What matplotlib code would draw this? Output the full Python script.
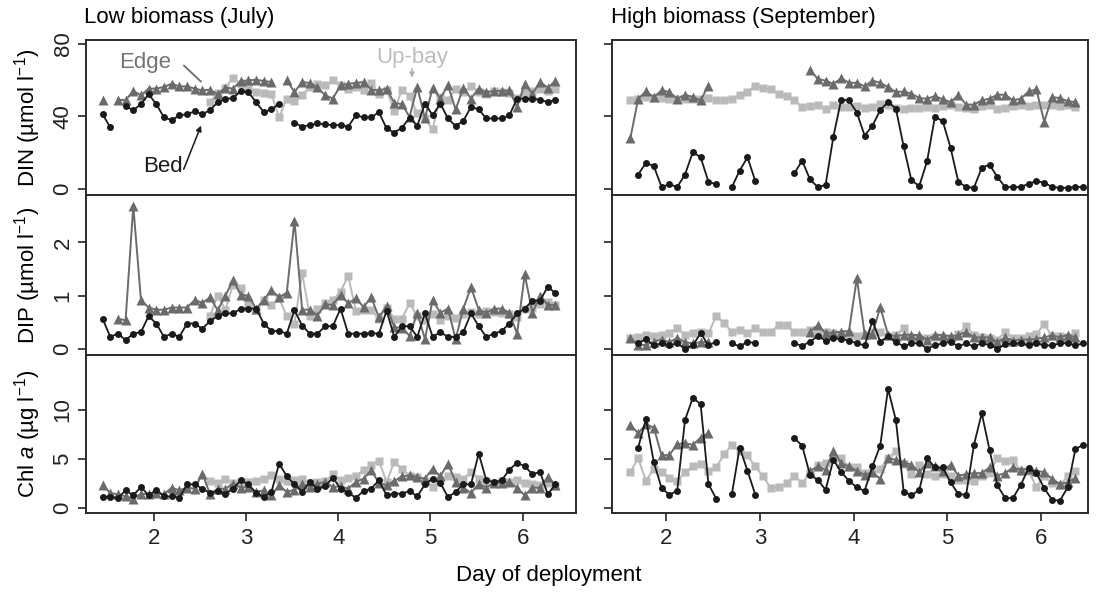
import matplotlib
matplotlib.use('Agg')
import matplotlib.pyplot as plt
import numpy as np

nan = np.nan

plt.rcParams['font.family'] = ['Liberation Sans', 'DejaVu Sans']
plt.rcParams['mathtext.fontset'] = 'custom'
plt.rcParams['mathtext.rm'] = 'Liberation Sans'
plt.rcParams['mathtext.it'] = 'Liberation Sans:italic'

# sampling every 2 h
day_jul = 1.44 + np.arange(60) / 12
day_sep = 1.616 + np.arange(59) / 12

# ---- July (low biomass) ----
bed_din_jul = [41.1, 33.8, nan, 45.5, 43.3, 46.6, 52.1, 46.6, 39.3, 37.8,
               40.4, 41.1, 42.6, 41.1, 43.3, 47.7, 49.5, 49.9, 53.9, 53.2,
               47.7, 42.2, 43.7, 46.9, nan, 36.3, 34.2, 35.1, 36.0, 35.4,
               35.1, 35.1, 34.2, 40.5, 39.3, 39.3, 42.2, 33.2, 30.9, 33.6,
               39.1, 34.7, 46.9, 40.5, 46.9, 38.7, 34.5, 37.4, 45.1, 43.7,
               38.7, 38.7, 38.7, 40.4, 49.7, 49.7, 49.3, 49.1, 47.7, 49.1]
edge_din_jul = [49.1, nan, 49.1, 48.8, 53.9, 51.5, 55.2, 55.2, 56.1, 57.9,
                56.4, 56.4, 55.2, 54.2, 54.6, 52.1, 55.7, 55.2, 59.4, 59.7,
                60.1, 59.4, 58.8, nan, 59.7, 53.3, 58.8, 58.3, 55.9, 51.5,
                49.7, 57.0, 57.9, 58.3, 58.8, 54.6, 54.2, 55.2, 47.3, 46.6,
                39.6, 56.1, 38.7, 55.7, 49.7, 57.0, 43.7, 55.7, 49.7, 55.2,
                53.3, 53.9, 53.9, 54.2, 45.1, 57.9, 52.4, 58.8, 55.7, 59.4]
upbay_din_jul = [nan] * 14 + [
    47.9, 52.8, 55.7, 61.2, 57.9, 55.5, 53.3, 52.8, 52.1, 39.3,
    49.7, 48.4, 51.5, 56.1, 57.5, 57.0, 59.7, 57.0, 55.2, 56.1,
    54.6, 58.3, 52.4, 54.6, 42.9, 54.6, 51.0, 41.5, 38.7, 32.7,
    50.6, 49.1, 55.2, 53.3, 56.4, 53.5, 52.0, 54.0, 53.5, 52.5,
    50.0, 53.0, 54.0, 55.0, 54.0, 55.0]

bed_dip_jul = [0.57, 0.23, 0.29, 0.17, 0.29, 0.32, 0.62, 0.48, 0.23, 0.29,
               0.23, 0.48, 0.48, 0.38, 0.53, 0.62, 0.67, 0.67, 0.76, 0.76,
               0.76, 0.48, 0.34, 0.34, 0.29, 0.73, 0.44, 0.29, 0.29, 0.43,
               0.43, 0.76, 0.29, 0.29, 0.29, 0.30, 0.29, 0.72, 0.23, 0.43,
               0.43, 0.23, 0.67, 0.23, 0.32, 0.23, 0.23, 0.32, 0.67, 0.43,
               0.23, 0.29, 0.34, 0.48, 0.67, 0.76, 0.91, 0.91, 1.17, 1.05]
edge_dip_jul = [nan, nan, 0.57, 0.54, 2.69, 0.92, 0.78, 0.74, 0.74, 0.78,
                0.78, 0.78, 0.92, 0.87, 0.97, 0.73, 1.00, 1.30, 1.02, 1.00,
                0.76, 0.92, 1.11, 0.97, 1.06, 2.41, 0.74, 0.74, 0.63, 0.84,
                0.83, 1.02, 0.86, 0.95, 0.79, 0.97, 0.60, 0.81, 0.41, 0.40,
                0.25, 0.68, 0.19, 0.92, 0.68, 0.76, 0.19, 0.76, 1.16, 0.74,
                0.68, 0.76, 0.76, 0.68, 0.29, 1.40, 0.68, 1.00, 0.83, 0.83]
upbay_dip_jul = [nan] * 14 + [
    0.63, 1.00, 0.74, 1.21, 1.14, 0.86, 0.73, 0.92, 0.83, 0.95,
    0.62, 0.48, 1.43, 0.62, 0.76, 0.86, 0.92, 1.08, 1.37, 0.72,
    0.74, 0.74, 0.57, 0.78, 0.57, 0.57, 0.86, 0.62, 0.54, 0.65,
    0.55, 0.62, 0.58, 0.66, 0.70, 0.65, 0.72, 0.70, 0.68, 0.66,
    0.60, 0.75, 0.78, 0.85, 0.88, 0.82]

bed_chl_jul = [1.13, 1.13, 1.02, 1.81, 1.30, 2.15, 1.30, 1.88, 1.19, 1.19,
               1.06, 2.42, 2.42, 1.98, 1.54, 1.74, 1.47, 1.98, 2.83, 2.42,
               1.54, 1.13, 1.64, 4.54, 3.24, 2.42, 1.64, 2.66, 1.98, 2.22,
               3.11, 1.98, 1.54, 1.06, 1.74, 1.98, 2.83, 1.30, 1.47, 1.47,
               1.74, 1.19, 2.42, 3.00, 2.56, 1.13, 1.64, 2.42, 2.42, 5.56,
               2.83, 2.66, 2.83, 3.92, 4.61, 4.27, 3.45, 3.69, 1.40, 2.42]
edge_chl_jul = [2.32, 1.54, 1.40, 1.19, 0.96, 1.47, 1.40, 1.54, 1.40, 2.08,
                1.81, 2.08, 1.98, 3.52, 1.40, 1.98, 1.98, 2.49, 2.08, 2.15,
                1.64, 1.81, 1.30, 2.32, 1.64, 1.88, 2.49, 2.15, 2.49, 2.66,
                2.15, 2.22, 1.98, 2.66, 3.00, 3.86, 2.56, 2.32, 2.76, 3.24,
                3.34, 3.17, 3.00, 4.03, 3.24, 4.54, 2.66, 2.08, 1.54, 2.49,
                2.08, 2.56, 2.56, 2.66, 2.08, 1.30, 2.08, 2.08, 3.17, 2.32]
upbay_chl_jul = [nan] * 14 + [
    2.76, 2.56, 3.00, 2.56, 2.66, 2.66, 2.76, 3.00, 3.34, 3.00,
    2.76, 2.90, 3.00, 2.56, 2.66, 2.76, 3.45, 2.90, 3.11, 3.24,
    3.92, 4.37, 4.81, 2.66, 4.71, 4.03, 3.24, 3.17, 2.76, 2.15,
    2.90, 3.24, 3.17, 3.00, 3.69, 3.00, 2.80, 2.60, 2.80, 2.70,
    2.90, 2.60, 2.50, 2.40, 2.60, 2.30]

# ---- September (high biomass) ----
bed_din_sep = [nan, 7.8, 14.2, 12.4, 0.9, 2.4, 0.9, 7.8, 20.2, 17.3,
               3.8, 2.4, nan, 0.9, 10.0, 17.3, 4.2, nan, nan, nan,
               nan, 8.4, 15.5, 5.1, 0.9, 2.0, 28.7, 49.1, 48.7, 42.0,
               29.3, 34.7, 43.3, 47.8, 44.2, 23.3, 4.5, 1.5, 15.1, 39.6,
               37.3, 22.7, 3.8, 0.9, 0.5, 11.5, 13.3, 6.4, 0.9, 0.9,
               0.9, 2.7, 4.2, 3.3, 0.9, 0.5, 0.5, 0.9, 0.9]
edge_din_sep = [27.8, 49.6, 53.6, 50.5, 54.2, 53.3, 49.6, 51.8, 50.5, 48.7,
                56.9] + [nan] * 12 + [
    65.6, 60.5, 59.6, 57.8, 60.9, 58.4, 58.4, 56.5, 59.6, 58.4,
    56.0, 53.3, 53.6, 52.4, 50.0, 49.6, 51.1, 49.3, 47.8, 51.5,
    46.4, 46.4, 48.7, 49.6, 51.8, 51.8, 48.7, 49.6, 53.6, 54.7,
    36.9, 50.5, 50.0, 48.2, 47.8, nan]
upbay_din_sep = [48.7, 49.3, 50.5, 50.0, 50.0, 49.3, 49.3, 49.6, 49.6, 49.6,
                 50.0, 48.7, 48.7, 49.6, 51.8, 53.3, 56.9, 55.5, 54.7, 52.4,
                 51.1, 48.7, 45.1, 45.6, 46.4, 43.8, 46.4, 45.1, 45.1, 45.6,
                 44.5, 45.1, 46.9, 46.0, 44.5, 43.8, 44.5, 44.5, 45.1, 44.5,
                 45.6, 46.4, 45.1, 44.5, 44.2, 45.6, 46.0, 44.2, 44.5, 45.6,
                 46.4, 45.6, 46.4, 46.4, 46.4, 45.6, 46.0, 45.1, nan]

bed_dip_sep = [nan, 0.11, 0.19, 0.07, 0.11, 0.07, 0.11, 0.01, 0.07, 0.30,
               0.07, 0.14, nan, 0.11, 0.05, 0.14, 0.11, nan, nan, nan,
               nan, 0.11, 0.06, 0.14, 0.24, 0.16, 0.20, 0.19, 0.16, 0.11,
               0.07, 0.53, 0.14, 0.24, 0.14, 0.05, 0.11, 0.11, 0.01, 0.07,
               0.11, 0.14, 0.05, 0.11, 0.05, 0.11, 0.08, 0.01, 0.09, 0.11,
               0.11, 0.07, 0.11, 0.07, 0.07, 0.11, 0.11, 0.07, 0.11]
edge_dip_sep = [0.21, 0.08, 0.08, 0.14, 0.18, 0.13, 0.21, 0.13, 0.11, 0.13,
                0.13] + [nan] * 12 + [
    0.33, 0.45, 0.30, 0.31, 0.33, 0.34, 1.33, 0.28, 0.28, 0.79,
    0.27, 0.24, 0.27, 0.27, 0.26, 0.18, 0.26, 0.27, 0.24, 0.26,
    0.33, 0.22, 0.22, 0.22, 0.13, 0.22, 0.16, 0.18, 0.18, 0.19,
    0.22, 0.26, 0.22, 0.27, 0.22, nan]
upbay_dip_sep = [0.21, 0.22, 0.26, 0.24, 0.27, 0.30, 0.40, 0.26, 0.30, 0.33,
                 0.30, 0.62, 0.49, 0.32, 0.35, 0.30, 0.40, 0.33, 0.33, 0.45,
                 0.45, 0.32, 0.33, 0.36, 0.28, 0.32, 0.30, 0.27, 0.27, 0.24,
                 0.27, 0.33, 0.33, 0.24, 0.27, 0.40, 0.21, 0.21, 0.21, 0.22,
                 0.19, 0.21, 0.28, 0.43, 0.27, 0.22, 0.21, 0.18, 0.32, 0.21,
                 0.21, 0.24, 0.28, 0.47, 0.24, 0.24, 0.22, 0.30, nan]

bed_chl_sep = [nan, 6.17, 9.08, 4.68, 2.03, 1.36, 1.76, 8.98, 11.25, 10.58,
               2.44, 0.95, nan, 1.42, 6.17, 3.80, 1.36, nan, nan, nan,
               nan, 7.12, 6.37, 3.39, 2.88, 1.86, 4.92, 3.66, 2.78, 2.10,
               1.76, 4.24, 6.37, 12.14, 8.98, 1.69, 1.29, 1.86, 5.08, 4.14,
               4.14, 2.64, 1.42, 1.36, 6.44, 9.66, 5.93, 2.31, 1.02, 1.02,
               2.37, 4.07, 3.56, 2.03, 0.85, 0.75, 2.10, 6.03, 6.44]
edge_chl_sep = [8.47, 7.63, 8.54, 8.20, 5.36, 5.42, 6.51, 6.61, 6.44, 7.19,
                7.63] + [nan] * 12 + [
    3.80, 4.24, 3.90, 5.83, 4.58, 4.24, 3.80, 3.39, 3.66, 2.98,
    5.08, 4.92, 4.68, 4.41, 3.66, 4.58, 4.24, 3.80, 4.41, 3.32,
    3.46, 3.56, 3.56, 4.14, 3.32, 3.56, 4.14, 3.90, 4.00, 3.80,
    3.66, 2.98, 2.44, 2.64, 3.05, nan]
upbay_chl_sep = [3.66, 5.08, 2.78, 4.00, 3.66, 3.05, 2.78, 3.66, 4.24, 4.47,
                 3.73, 4.14, 5.49, 6.44, 5.83, 5.36, 4.24, 3.22, 2.03, 2.20,
                 2.54, 3.32, 2.54, 3.56, 4.41, 4.58, 5.00, 5.08, 4.14, 4.14,
                 3.56, 3.56, 4.00, 5.08, 5.83, 4.47, 3.46, 4.41, 3.46, 3.32,
                 3.46, 3.22, 2.88, 2.88, 2.71, 3.22, 3.56, 5.08, 4.75, 4.92,
                 3.80, 3.73, 2.20, 3.22, 2.54, 2.37, 3.22, 3.80, nan]

ylabels = ['DIN (\u00b5mol l$^{-1}$)', 'DIP (\u00b5mol l$^{-1}$)',
           'Chl $\\mathit{a}$ (\u00b5g l$^{-1}$)']
yticks = [[0, 40, 80], [0, 1, 2], [0, 5, 10]]
ylims = [(-3.5, 82), (-0.11, 2.89), (-0.5, 15.6)]
xticks = [2, 3, 4, 5, 6]

c_bed = '#1a1a1a'
c_edge = '#6b6b6b'
c_up = '#bababa'
fs = 16

fig = plt.figure(figsize=(10.99, 5.92), dpi=100)
W, H = 1099.0, 592.0
cols = [(86, 576), (612, 1088)]
rows = [(40, 195), (195, 355), (355, 513)]

data = {
    0: [(upbay_din_jul, edge_din_jul, bed_din_jul),
        (upbay_dip_jul, edge_dip_jul, bed_dip_jul),
        (upbay_chl_jul, edge_chl_jul, bed_chl_jul)],
    1: [(upbay_din_sep, edge_din_sep, bed_din_sep),
        (upbay_dip_sep, edge_dip_sep, bed_dip_sep),
        (upbay_chl_sep, edge_chl_sep, bed_chl_sep)],
}
days = [day_jul, day_sep]
xlims = [(1.26, 6.58), (1.42, 6.50)]

axes = {}
for c, (x0, x1) in enumerate(cols):
    for r, (y0, y1) in enumerate(rows):
        ax = fig.add_axes([x0 / W, 1 - y1 / H, (x1 - x0) / W, (y1 - y0) / H])
        axes[(r, c)] = ax
        up, ed, bd = data[c][r]
        t = days[c]
        ax.plot(t, up, color=c_up, lw=1.4, marker='s', ms=5.2, mec='none', zorder=2)
        ax.plot(t, ed, color=c_edge, lw=1.4, marker='^', ms=6.5, mec='none', zorder=3)
        ax.plot(t, bd, color=c_bed, lw=1.3, marker='o', ms=5.0, mec='none', zorder=4)
        ax.set_xlim(*xlims[c])
        ax.set_ylim(*ylims[r])
        ax.set_yticks(yticks[r])
        ax.set_xticks(xticks if r == 2 else [])
        ax.tick_params(direction='out', length=6, width=1.2, labelsize=fs,
                       colors='#222222', pad=3)
        ax.tick_params(axis='x', pad=5)
        if c == 1:
            ax.set_yticklabels([])
        else:
            for lab in ax.get_yticklabels():
                lab.set_rotation(90)
                lab.set_va('center')
        for s in ax.spines.values():
            s.set_linewidth(1.4)
            s.set_color('#2a2a2a')

# row labels
for r, (y0, y1) in enumerate(rows):
    fig.text(28 / W, 1 - (y0 + y1) / 2 / H, ylabels[r], rotation=90,
             ha='center', va='center', fontsize=fs)

fig.text(84 / W, 1 - 18 / H, 'Low biomass (July)', ha='left', va='center', fontsize=fs)
fig.text(611 / W, 1 - 18 / H, 'High biomass (September)', ha='left', va='center', fontsize=fs)
fig.text(549 / W, 1 - 575 / H, 'Day of deployment', ha='center', va='center', fontsize=fs)

# annotations on July DIN panel
ax = axes[(0, 0)]
ax.text(1.90, 69.6, 'Edge', color='#737373', fontsize=fs, ha='center', va='center')
ax.annotate('', xy=(2.53, 58), xytext=(2.30, 69),
            arrowprops=dict(arrowstyle='-', color='#6b6b6b', lw=1.3))
ax.text(2.10, 12, 'Bed', color='#1a1a1a', fontsize=fs, ha='center', va='center')
ax.annotate('', xy=(2.52, 36.2), xytext=(2.31, 9.3),
            arrowprops=dict(arrowstyle='-|>', color='#1a1a1a', lw=1.1,
                            mutation_scale=8))
ax.text(4.80, 72.3, 'Up-bay', color='#bdbdbd', fontsize=fs, ha='center', va='center')
ax.annotate('', xy=(4.80, 59.7), xytext=(4.80, 67.8),
            arrowprops=dict(arrowstyle='-|>', color='#b0b0b0', lw=1.1,
                            mutation_scale=7))

fig.savefig('out.png', dpi=100)
